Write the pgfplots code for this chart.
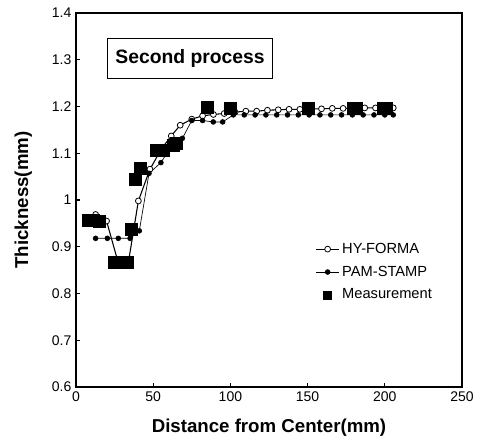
\documentclass[border=0pt]{standalone}
\usepackage{fontspec}
\setmainfont{Liberation Sans}
\usepackage{pgfplots}
\pgfplotsset{compat=1.18}
\begin{document}
\begin{tikzpicture}[x=1pt,y=1pt]
\useasboundingbox (-57pt,-41.25pt) rectangle (303pt,290.25pt);
\begin{axis}[
  scale only axis,
  width=289.5pt, height=280.5pt,
  xmin=0, xmax=250, ymin=0.6, ymax=1.4,
  xtick={0,50,...,250},
  ytick={0.6,0.7,...,1.4},
  xtick pos=left, ytick pos=left,
  tick align=inside,
  axis line style={line width=1.1pt},
  tick style={black, line width=0.8pt},
  major tick length=3pt,
  /pgf/number format/assume math mode=true,
  yticklabel style={/pgf/number format/fixed, /pgf/number format/precision=1},
  ticklabel style={font=\fontsize{10.5}{12}\selectfont},
  xlabel={\bfseries Distance from Center(mm)},
  ylabel={\bfseries Thickness(mm)},
  label style={font=\fontsize{14}{16}\selectfont},
  xlabel style={yshift=-6pt},
  ylabel style={yshift=8pt},
  legend style={draw=none, fill=none, at={(0.61,0.40)}, anchor=north west,
    font=\fontsize{11}{13}\selectfont, row sep=4pt},
  legend cell align=left,
]
\addplot[black, line width=0.8pt, mark=*, mark size=2.2pt, mark options={fill=white, line width=0.6pt}]
coordinates {
(12.7,0.969) (19.8,0.955) (27,0.870) (34.1,0.870) (40.4,0.998) (47.9,1.066)
(55.5,1.110) (61.7,1.137) (67.5,1.160) (75,1.173) (82,1.180) (89,1.183)
(96,1.185) (103,1.188) (110,1.190) (117,1.190) (124,1.192) (131,1.193)
(138,1.194) (145,1.194) (152,1.195) (159,1.195) (166,1.196) (173,1.196)
(180,1.196) (187,1.197) (194,1.197) (201,1.197) (205.5,1.197)
};
\addlegendentry{HY-FORMA}
\addplot[black, line width=0.5pt, mark=*, mark size=1.8pt]
coordinates {
(12.7,0.918) (20.3,0.918) (27.4,0.918) (35,0.918) (41,0.934) (47.3,1.057)
(55,1.080) (61.5,1.114) (68.9,1.132) (75,1.170) (82,1.170) (88.9,1.167)
(95,1.167) (101.9,1.182) (109,1.182) (116,1.182) (123,1.182) (130,1.182)
(137,1.182) (144,1.182) (151,1.182) (158,1.182) (165,1.182) (172,1.182)
(179,1.182) (186,1.182) (193,1.182) (200,1.182) (205.5,1.182)
};
\addlegendentry{PAM-STAMP}
\addplot[only marks, mark=square*, mark size=4.5pt, black,
  legend image post style={mark size=3pt}]
coordinates {
(7.9,0.957) (11.5,0.957) (15,0.955) (25,0.867) (29,0.867) (33,0.867)
(36,0.937) (38.2,1.045) (41.9,1.068) (52.2,1.107) (56.6,1.107) (63,1.118)
(65,1.122) (85,1.198) (99.7,1.196) (150.5,1.197) (179.6,1.196) (181.5,1.196)
(199,1.197) (201,1.197)
};
\addlegendentry{Measurement}
\node[draw, line width=0.8pt, anchor=north west, inner sep=4pt,
  minimum width=124pt, minimum height=30pt,
  font=\fontsize{14.5}{16}\selectfont\bfseries]
  at (axis cs:20,1.3465) {Second process};
\end{axis}
\end{tikzpicture}
\end{document}
